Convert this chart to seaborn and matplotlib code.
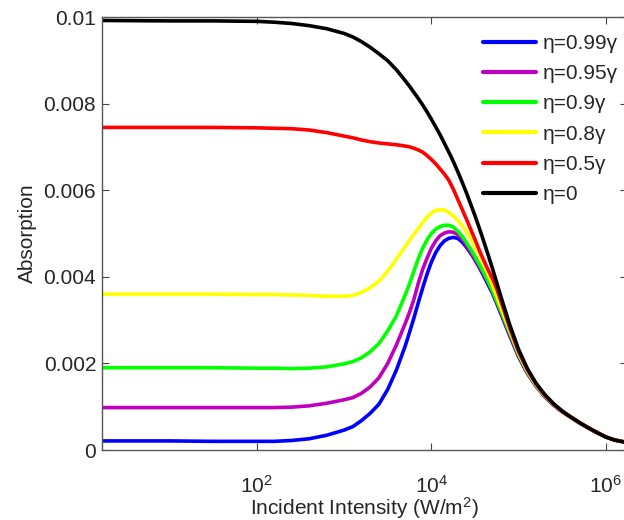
import matplotlib
matplotlib.use("Agg")
import matplotlib.pyplot as plt
from matplotlib.ticker import FixedLocator, FixedFormatter, NullLocator
import pandas as pd
import seaborn as sns

# Incident intensity grid, as log10(I / (W/m^2))
log_intensity = [0.22, 1.0, 1.5, 2.0, 2.2, 2.4, 2.6, 2.8, 3.0, 3.1, 3.2, 3.3,
                 3.4, 3.5, 3.6, 3.7, 3.75, 3.8, 3.85, 3.9, 3.95, 4.0, 4.05,
                 4.1, 4.15, 4.2, 4.25, 4.3, 4.35, 4.4, 4.45, 4.5, 4.55, 4.6,
                 4.65, 4.7, 4.75, 4.8, 4.9, 5.0, 5.1, 5.2, 5.3, 5.4, 5.5,
                 5.6, 5.7, 5.8, 5.9, 6.0, 6.1, 6.25]

# Absorption for each dephasing ratio eta/gamma
abs_099 = [0.00021, 0.00021, 0.00020, 0.00020, 0.00020, 0.00022, 0.00026,
           0.00034, 0.00046, 0.00054, 0.00068, 0.00085, 0.00106, 0.00140,
           0.00185, 0.00240, 0.00272, 0.00305, 0.00340, 0.00374, 0.00406,
           0.00434, 0.00456, 0.00472, 0.00483, 0.00489, 0.00491, 0.00489,
           0.00481, 0.00469, 0.00455, 0.00439, 0.00421, 0.00402, 0.00382,
           0.00362, 0.00338, 0.00313, 0.00263, 0.00215, 0.00177, 0.00147,
           0.00123, 0.00104, 0.00088, 0.00075, 0.00062, 0.00051, 0.00040,
           0.00030, 0.00023, 0.00017]
abs_095 = [0.00098, 0.00098, 0.00098, 0.00098, 0.00098, 0.00099, 0.00102,
           0.00108, 0.00116, 0.00121, 0.00131, 0.00146, 0.00167, 0.00200,
           0.00243, 0.00292, 0.00318, 0.00348, 0.00385, 0.00417, 0.00443,
           0.00466, 0.00483, 0.00495, 0.00501, 0.00504, 0.00503, 0.00498,
           0.00488, 0.00474, 0.00458, 0.00441, 0.00424, 0.00406, 0.00387,
           0.00366, 0.00341, 0.00317, 0.00267, 0.00218, 0.00179, 0.00148,
           0.00124, 0.00104, 0.00088, 0.00075, 0.00062, 0.00051, 0.00040,
           0.00030, 0.00023, 0.00017]
abs_090 = [0.00190, 0.00190, 0.00190, 0.00189, 0.00189, 0.00188, 0.00189,
           0.00192, 0.00199, 0.00204, 0.00213, 0.00227, 0.00246, 0.00275,
           0.00310, 0.00358, 0.00384, 0.00413, 0.00442, 0.00466, 0.00485,
           0.00500, 0.00510, 0.00516, 0.00519, 0.00519, 0.00515, 0.00506,
           0.00494, 0.00480, 0.00464, 0.00447, 0.00429, 0.00410, 0.00390,
           0.00368, 0.00344, 0.00320, 0.00270, 0.00220, 0.00180, 0.00149,
           0.00125, 0.00105, 0.00089, 0.00075, 0.00063, 0.00051, 0.00040,
           0.00030, 0.00023, 0.00017]
abs_080 = [0.00360, 0.00360, 0.00360, 0.00359, 0.00359, 0.00358, 0.00357,
           0.00355, 0.00355, 0.00357, 0.00364, 0.00375, 0.00390, 0.00413,
           0.00441, 0.00470, 0.00484, 0.00498, 0.00511, 0.00525, 0.00538,
           0.00547, 0.00553, 0.00555, 0.00554, 0.00549, 0.00541, 0.00531,
           0.00519, 0.00505, 0.00489, 0.00470, 0.00451, 0.00430, 0.00406,
           0.00381, 0.00355, 0.00328, 0.00275, 0.00223, 0.00182, 0.00150,
           0.00126, 0.00106, 0.00089, 0.00076, 0.00063, 0.00051, 0.00040,
           0.00030, 0.00023, 0.00017]
abs_050 = [0.00745, 0.00745, 0.00745, 0.00744, 0.00743, 0.00742, 0.00739,
           0.00733, 0.00725, 0.00721, 0.00716, 0.00712, 0.00709, 0.00707,
           0.00705, 0.00702, 0.00700, 0.00697, 0.00693, 0.00688, 0.00680,
           0.00671, 0.00661, 0.00649, 0.00637, 0.00623, 0.00603, 0.00580,
           0.00557, 0.00534, 0.00510, 0.00486, 0.00461, 0.00438, 0.00416,
           0.00396, 0.00372, 0.00342, 0.00281, 0.00227, 0.00185, 0.00152,
           0.00127, 0.00106, 0.00089, 0.00076, 0.00063, 0.00051, 0.00040,
           0.00030, 0.00023, 0.00017]
abs_000 = [0.00992, 0.00991, 0.00991, 0.00990, 0.00988, 0.00985, 0.00980,
           0.00973, 0.00962, 0.00954, 0.00943, 0.00930, 0.00915, 0.00899,
           0.00878, 0.00853, 0.00840, 0.00826, 0.00812, 0.00797, 0.00781,
           0.00764, 0.00746, 0.00728, 0.00708, 0.00688, 0.00667, 0.00644,
           0.00620, 0.00595, 0.00568, 0.00541, 0.00512, 0.00482, 0.00451,
           0.00419, 0.00386, 0.00352, 0.00288, 0.00232, 0.00188, 0.00154,
           0.00128, 0.00107, 0.00090, 0.00076, 0.00063, 0.00051, 0.00040,
           0.00030, 0.00023, 0.00017]

labels = ["η=0.99γ", "η=0.95γ", "η=0.9γ", "η=0.8γ", "η=0.5γ", "η=0"]
colors = ["#0000FF", "#BF00BF", "#00FF00", "#FFFF00", "#FF0000", "#000000"]
series = [abs_099, abs_095, abs_090, abs_080, abs_050, abs_000]

y_ticks = [0, 0.002, 0.004, 0.006, 0.008, 0.01]
y_tick_labels = ["0", "0.002", "0.004", "0.006", "0.008", "0.01"]
x_ticks = [1e2, 1e4, 1e6]
x_tick_labels = ["$10^2$", "$10^4$", "$10^6$"]

intensity = [10 ** v for v in log_intensity]
frames = [pd.DataFrame({"Intensity": intensity, "Absorption": vals, "eta": lab})
          for lab, vals in zip(labels, series)]
df = pd.concat(frames, ignore_index=True)

sns.set_style("ticks")
plt.rcParams["font.family"] = ["Liberation Sans", "DejaVu Sans"]
plt.rcParams["mathtext.fontset"] = "custom"
plt.rcParams["mathtext.rm"] = "Liberation Sans"
plt.rcParams["mathtext.it"] = "Liberation Sans:italic"
plt.rcParams["mathtext.bf"] = "Liberation Sans:bold"

fig = plt.figure(figsize=(6.24, 5.2), dpi=100)
ax = fig.add_axes([0.163, 0.1346, 0.842, 0.8327])

sns.lineplot(data=df, x="Intensity", y="Absorption", hue="eta",
             hue_order=labels, palette=dict(zip(labels, colors)),
             linewidth=2.6, ax=ax, sort=False)

ax.set_xscale("log")
ax.set_xlim(1.67, 1.75e6)
ax.set_ylim(0, 0.01)

ax.xaxis.set_major_locator(FixedLocator(x_ticks))
ax.xaxis.set_major_formatter(FixedFormatter(x_tick_labels))
ax.xaxis.set_minor_locator(NullLocator())
ax.yaxis.set_major_locator(FixedLocator(y_ticks))
ax.yaxis.set_major_formatter(FixedFormatter(y_tick_labels))

ax.tick_params(axis="both", which="both", direction="in", length=5,
               width=0.8, color="#444444", top=True, right=True,
               labelsize=15)
ax.tick_params(axis="x", pad=18)
ax.tick_params(axis="y", pad=4)
for sp in ax.spines.values():
    sp.set_visible(True)
    sp.set_color("#555555")
    sp.set_linewidth(1.0)

ax.set_xlabel("Incident Intensity (W/m$^2$)", fontsize=15, labelpad=-1)
ax.set_ylabel("Absorption", fontsize=15, labelpad=5)

leg = ax.legend(loc="upper left", bbox_to_anchor=(0.726, 0.961),
                frameon=False, fontsize=15, handlelength=2.55,
                handletextpad=0.33, labelspacing=0.54, borderpad=0,
                borderaxespad=0)
for line in leg.get_lines():
    line.set_linewidth(3.0)

fig.savefig("out.png", dpi=100)
